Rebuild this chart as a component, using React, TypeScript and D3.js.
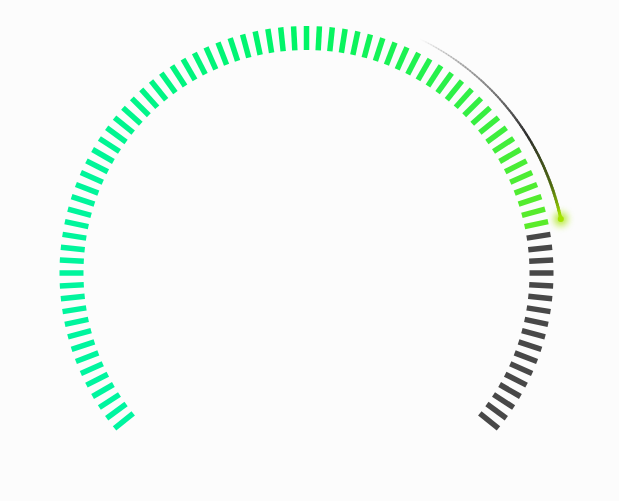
import { scaleLinear, range, interpolateRgb, color as d3color } from 'd3';

// gauge data
const gaugeDomain = [0, 100];
const gaugeValue = [80];
const trailStart = [60];
const tickCount = 87;
const tickColorStops = [0, 25, 50, 80];
const tickColors = ['#00f5a0', '#00f59a', '#00f564', '#5aeb2a'];
const trailStops = [0, 0.3, 0.62, 0.86, 1];
const trailColors = ['rgba(215,215,215,0)', 'rgba(140,140,140,0.85)', '#2e2e2e', '#4f6a10', '#a4e400'];

const W = 619;
const H = 501;
const cx = 306.5;
const cy = 273;
const outerR = 247;
const innerR = 223;
const trailR = 260;

export default function App() {
  const angle = scaleLinear().domain(gaugeDomain).range([-130, 130]);
  const tickAngle = scaleLinear().domain([0, tickCount - 1]).range([-129, 129]);
  const tickColor = scaleLinear<string>().domain(tickColorStops).range(tickColors).interpolate(interpolateRgb);
  const trailColor = scaleLinear<string>().domain(trailStops).range(trailColors).interpolate(interpolateRgb);
  const valueAngle = angle(gaugeValue[0]);

  const polar = (deg: number, r: number) => {
    const a = (deg * Math.PI) / 180;
    return [cx + r * Math.sin(a), cy - r * Math.cos(a)];
  };

  const ticks = range(tickCount).map((i) => {
    const a = tickAngle(i);
    const [x1, y1] = polar(a, innerR);
    const [x2, y2] = polar(a, outerR);
    const on = a <= valueAngle + 0.01;
    const v = angle.invert(a);
    return { i, x1, y1, x2, y2, stroke: on ? tickColor(v) : '#484848' };
  });

  // trail segments from trailStart to value
  const segN = 80;
  const t0 = angle(trailStart[0]);
  const segs = range(segN).map((k) => {
    const f0 = k / segN;
    const f1 = (k + 1) / segN;
    const [x1, y1] = polar(t0 + (valueAngle - t0) * f0, trailR);
    const [x2, y2] = polar(t0 + (valueAngle - t0) * f1, trailR);
    return { k, x1, y1, x2, y2, stroke: trailColor((f0 + f1) / 2), w: 1.3 + 1.7 * f1 };
  });
  const [ex, ey] = polar(valueAngle, trailR);
  const dotColor = d3color(trailColors[trailColors.length - 1])?.formatHex() ?? '#a4e400';

  return (
    <svg width={W} height={H} style={{ position: 'absolute', left: 0, top: 0 }}>
      <defs>
        <filter id="glow" x="-200%" y="-200%" width="500%" height="500%">
          <feGaussianBlur stdDeviation="3.5" />
        </filter>
      </defs>
      <rect width={W} height={H} fill="#fcfcfc" />
      <g>
        {ticks.map((t) => (
          <line key={t.i} x1={t.x1} y1={t.y1} x2={t.x2} y2={t.y2} stroke={t.stroke} strokeWidth={5.5} />
        ))}
      </g>
      <g>
        {segs.map((s) => (
          <line key={s.k} x1={s.x1} y1={s.y1} x2={s.x2} y2={s.y2} stroke={s.stroke} strokeWidth={s.w} strokeLinecap="round" />
        ))}
        <circle cx={ex} cy={ey} r={7} fill={dotColor} opacity={0.75} filter="url(#glow)" />
        <circle cx={ex} cy={ey} r={3} fill={dotColor} />
      </g>
    </svg>
  );
}
